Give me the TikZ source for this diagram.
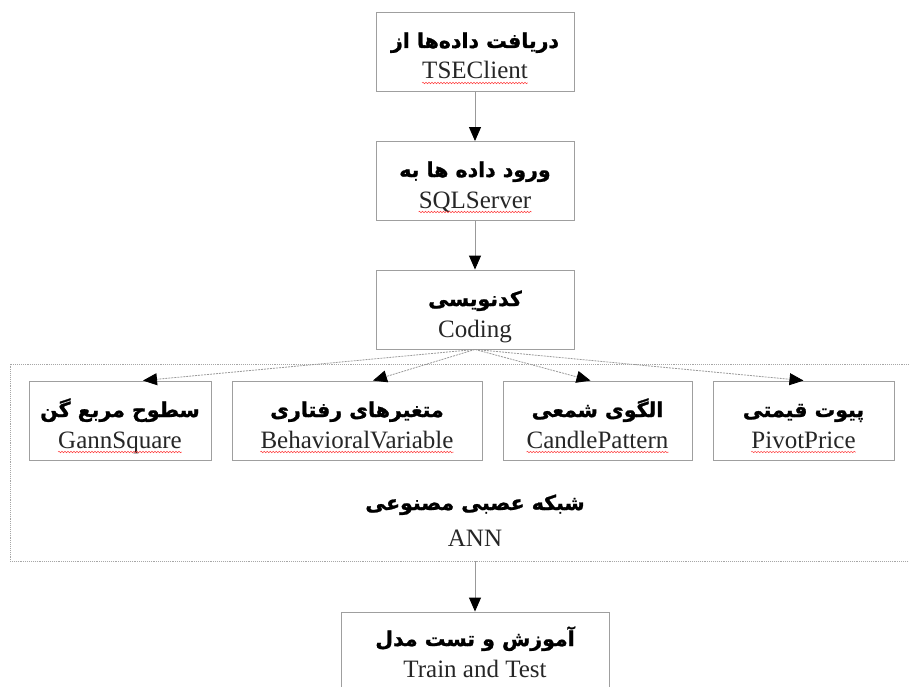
\documentclass[tikz,border=0pt]{standalone}
\usepackage{fontspec}
\setmainfont{Liberation Serif}
\newfontfamily\fafont[Script=Arabic,BoldFeatures={FakeBold=1.2}]{DejaVu Sans}
\TeXXeTstate=1
\usetikzlibrary{arrows.meta,decorations.pathmorphing}
\tikzset{
	box/.style={draw=gray!75, line width=0.9pt, minimum width=#1, minimum height=79pt, inner sep=0pt},
	annframe/.style={draw=gray!70, line width=0.9pt, densely dotted, minimum width=902pt, minimum height=197pt},
	fa/.style={anchor=base, inner sep=0pt, font=\fafont\bfseries\fontsize{20.5}{24}\selectfont},
	en/.style={anchor=base, inner sep=0pt, text=black!85, font=\fontsize{25}{28}\selectfont},
	arrow/.style={draw=gray!80, line width=0.9pt, -{Triangle[length=14pt,width=12pt,color=black]}},
	link/.style={draw=gray!80, line width=0.8pt, dash pattern=on 2pt off 1pt, -{Triangle[length=14pt,width=12pt,color=black]}},
	spell/.style={draw=red!75, line width=0.5pt, decorate, decoration={snake, amplitude=0.7pt, segment length=3pt}}
}
\begin{document}
\begin{tikzpicture}[x=1pt,y=-1pt]
		\def\cx{475}%middle column
		\def\w{198pt}%width of the top boxes
		\clip (0,0) rectangle (909,687);
		\node[annframe] (ann) at (461,462.5) {};
		\node[box=\w] (client) at (\cx,52) {};
		\node[fa] (client-fa) at (\cx,48) {\beginR دریافت داده‌ها از\endR};
		\node[en] (client-en) at (\cx,79) {TSEClient};
		\node[box=\w] (sql) at (\cx,181) {};
		\node[fa] (sql-fa) at (\cx,177) {\beginR ورود داده ها به\endR};
		\node[en] (sql-en) at (\cx,208) {SQLServer};
		\node[box=\w] (coding) at (\cx,309.5) {};
		\node[fa] (coding-fa) at (\cx,306) {\beginR کدنویسی\endR};
		\node[en] (coding-en) at (\cx,337) {Coding};
		\draw[arrow] (client.south) -- (sql.north);
		\draw[arrow] (sql.south) -- (coding.north);
		\foreach \nm/\xl/\xr/\dx/\fa/\en in {gann/29/211/23/سطوح مربع گن/GannSquare,
			behav/232/482/16/متغیرهای رفتاری/BehavioralVariable,
			candle/503/692/-7/الگوی شمعی/CandlePattern,
			pivot/713/894/0/پیوت قیمتی/PivotPrice}{
			\pgfmathsetmacro{\bw}{\xr-\xl}
			\pgfmathsetmacro{\m}{(\xl+\xr)/2}
			\node[box=\bw pt] (\nm) at (\m,420.5) {};
			\node[fa] (\nm-fa) at (\m,417) {\beginR\fa\endR};
			\node[en] (\nm-en) at (\m,448) {\en};
			\draw[spell] ([yshift=-4pt]\nm-en.base west) -- ([yshift=-4pt]\nm-en.base east);
			\draw[link] (coding.south) -- ([xshift=\dx pt]\nm.north);
		}
		\draw[spell] ([yshift=-4pt]client-en.base west) -- ([yshift=-4pt]client-en.base east);
		\draw[spell] ([yshift=-4pt]sql-en.base west) -- ([yshift=-4pt]sql-en.base east);
		\node[fa] (ann-fa) at (\cx,510) {\beginR شبکه عصبی مصنوعی\endR};
		\node[en] (ann-en) at (\cx,546) {ANN};
		\node[box=268pt, minimum height=92pt] (train) at (\cx,658) {};
		\node[fa] (train-fa) at (\cx,646) {\beginR آموزش و تست مدل\endR};
		\node[en] (train-en) at (\cx,677) {Train and Test};
		\draw[arrow] (ann.south -| train.north) -- (train.north);
\end{tikzpicture}
\end{document}
